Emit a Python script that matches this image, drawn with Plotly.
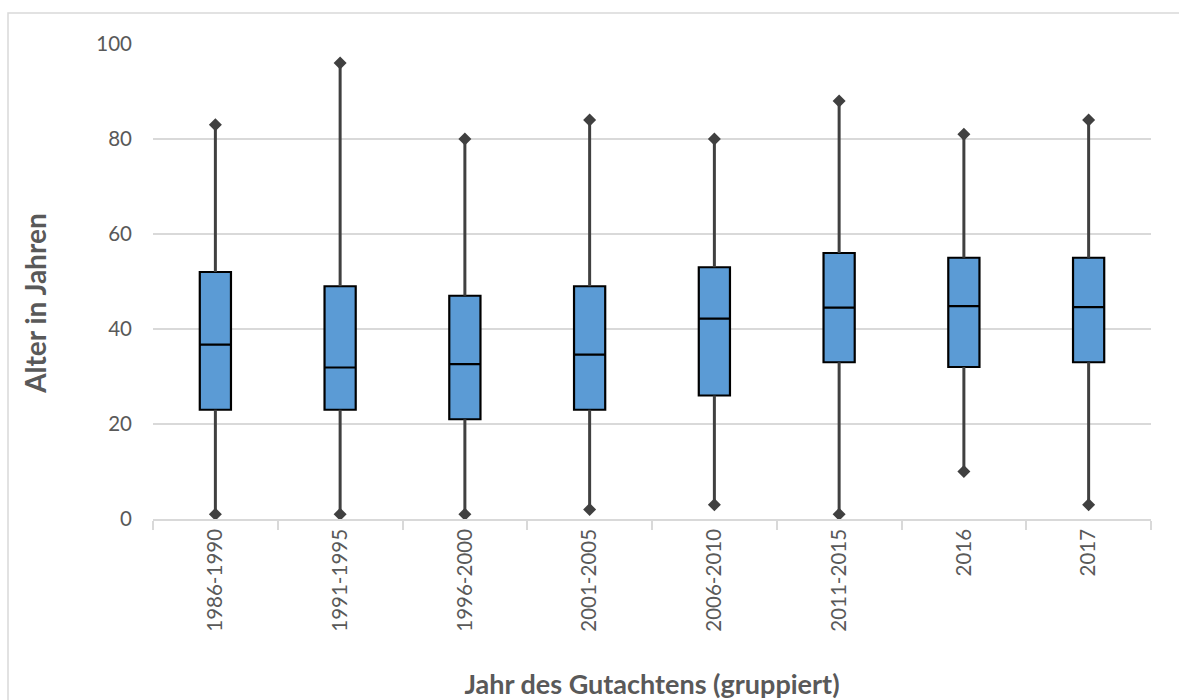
import plotly.graph_objects as go

# Age distribution of report subjects, grouped by report year
groups = ["1986-1990", "1991-1995", "1996-2000", "2001-2005",
          "2006-2010", "2011-2015", "2016", "2017"]
minimum = [1, 1, 1, 2, 3, 1, 10, 3]
q1 = [23, 23, 21, 23, 26, 33, 32, 33]
median = [36.7, 31.9, 32.6, 34.6, 42.2, 44.5, 44.8, 44.6]
q3 = [52, 49, 47, 49, 53, 56, 55, 55]
maximum = [83, 96, 80, 84, 80, 88, 81, 84]

FONT = "Lato, 'Open Sans', sans-serif"
TEXT = "#595959"
GRID = "#d9d9d9"

fig = go.Figure()

# boxes (whiskers drawn separately below)
fig.add_trace(go.Box(
    x=groups, q1=q1, median=median, q3=q3,
    lowerfence=q1, upperfence=q3,
    fillcolor="#5B9BD5",
    line=dict(color="#000000", width=2.2),
    width=0.25, whiskerwidth=0,
    boxpoints=False, hoverinfo="skip", showlegend=False,
))

# whisker segments from the box to min / max
wx, wy = [], []
for g, lo, a, b, hi in zip(groups, minimum, q1, q3, maximum):
    wx += [g, g, None, g, g, None]
    wy += [lo, a, None, b, hi, None]
fig.add_trace(go.Scatter(
    x=wx, y=wy, mode="lines",
    line=dict(color="#404040", width=3),
    hoverinfo="skip", showlegend=False,
))

# diamond markers at min and max
fig.add_trace(go.Scatter(
    x=groups + groups, y=minimum + maximum, mode="markers",
    marker=dict(symbol="diamond", size=10, color="#404040"),
    hoverinfo="skip", showlegend=False,
))

fig.update_layout(
    width=1179, height=700,
    margin=dict(l=153, r=28, t=44, b=181),
    paper_bgcolor="white", plot_bgcolor="white",
    font=dict(family=FONT, color=TEXT, size=20),
    xaxis=dict(
        type="category", categoryorder="array", categoryarray=groups,
        tickson="boundaries", ticks="outside", ticklen=9, tickcolor=GRID,
        tickwidth=1.5, tickangle=-90, showgrid=False,
        showline=True, linecolor=GRID, linewidth=1.5,
        tickfont=dict(size=20.5, color=TEXT), automargin=False,
        title=dict(text="<b>Jahr des Gutachtens (gruppiert)</b>",
                   font=dict(size=27, color=TEXT), standoff=56),
        range=[-0.5, 7.5],
    ),
    yaxis=dict(
        range=[0, 100], tickvals=[0, 20, 40, 60, 80, 100],
        showgrid=True, gridcolor=GRID, gridwidth=1.5,
        zeroline=False, showline=False, ticks="", automargin=False,
        tickfont=dict(size=20.5, color=TEXT), ticklabelstandoff=20,
    ),
    annotations=[dict(
        text="<b>Alter in Jahren</b>", textangle=-90,
        xref="paper", yref="paper", x=-118 / 998, y=0.453,
        xanchor="center", yanchor="middle", showarrow=False,
        font=dict(size=28, color=TEXT),
    )],
    shapes=[dict(type="rect", xref="paper", yref="paper",
                 x0=-145 / 998, x1=1.1, y0=-0.5, y1=1 + 31 / 475,
                 line=dict(color=GRID, width=1.5), layer="below")],
)

fig.write_html("out.html")
